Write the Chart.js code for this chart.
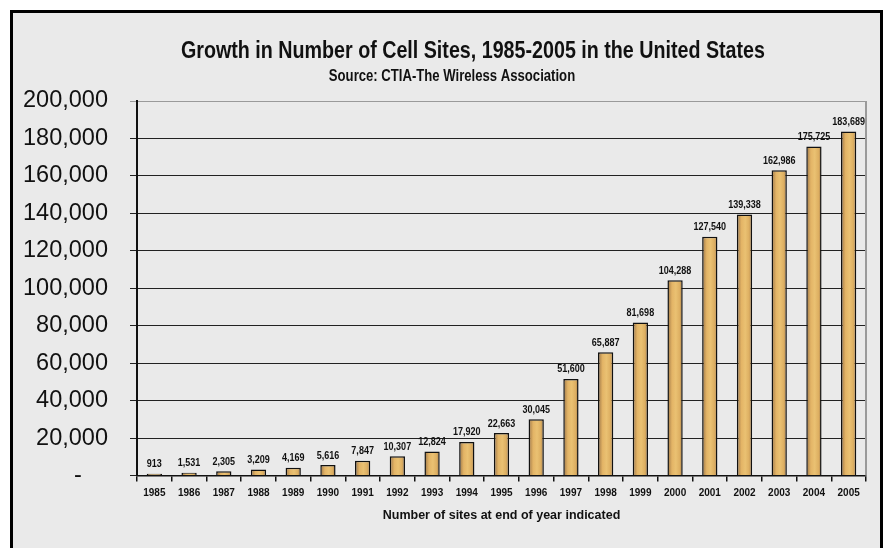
<!DOCTYPE html>
<html>
<head>
<meta charset="utf-8">
<script src="https://cdn.jsdelivr.net/npm/chart.js@4"></script>
<style>
  html, body { margin: 0; padding: 0; background: #fff; overflow: hidden; }
  #frame { position: absolute; left: 10px; top: 10px; width: 867px; height: 560px;
           border: 3px solid #000; background: #eaeaea; }
  #chart { position: absolute; left: 0; top: 0; }
</style>
</head>
<body>
<div id="frame"></div>
<canvas id="chart" width="883" height="548"></canvas>
<script>
"use strict";

const years = ["1985", "1986", "1987", "1988", "1989", "1990", "1991", "1992", "1993", "1994", "1995",
  "1996", "1997", "1998", "1999", "2000", "2001", "2002", "2003", "2004", "2005"];
const sites = [913, 1531, 2305, 3209, 4169, 5616, 7847, 10307, 12824, 17920, 22663,
  30045, 51600, 65887, 81698, 104288, 127540, 139338, 162986, 175725, 183689];
const titleText = "Growth in Number of Cell Sites, 1985-2005 in the United States";
const subtitleText = "Source: CTIA-The Wireless Association";
const xTitle = "Number of sites at end of year indicated";

const FONT = '"Liberation Sans", Arial, sans-serif';
const SQUEEZE = 0.82; // no narrow face installed, so squeeze drawn text by hand
const BAR_PCT = 0.44;
const fmt = (n) => Number(n).toLocaleString("en-US");

// horizontal shading across each bar
function barFill(ctx) {
  const chart = ctx.chart;
  const xs = chart.scales.x;
  if (!chart.chartArea || !xs) return "#e6b96a";
  const c = xs.getPixelForValue(ctx.dataIndex);
  const half = (xs.width / years.length) * BAR_PCT / 2;
  const g = chart.ctx.createLinearGradient(c - half, 0, c + half, 0);
  g.addColorStop(0, "#9a7446");
  g.addColorStop(0.3, "#e3b466");
  g.addColorStop(0.55, "#eac172");
  g.addColorStop(0.8, "#ddaf62");
  g.addColorStop(1, "#a47c4a");
  return g;
}

function squeezedText(c, text, x, y) {
  c.save();
  c.translate(x, y);
  c.scale(SQUEEZE, 1);
  c.fillText(text, 0, 0);
  c.restore();
}

const headerPlugin = {
  id: "header",
  afterDraw(chart) {
    const c = chart.ctx;
    c.save();
    c.fillStyle = "#111";
    c.textAlign = "center";
    c.textBaseline = "middle";
    c.font = "bold 24px " + FONT;
    squeezedText(c, titleText, 473, 51);
    c.font = "bold 16px " + FONT;
    squeezedText(c, subtitleText, 452, 77);
    c.restore();
  },
};

const framePlugin = {
  id: "plotFrame",
  beforeDatasetsDraw(chart) {
    const { ctx, chartArea: a } = chart;
    ctx.save();
    ctx.strokeStyle = "#9a9a9a";
    ctx.lineWidth = 2;
    ctx.beginPath();
    ctx.moveTo(a.right, a.top);
    ctx.lineTo(a.right, a.bottom);
    ctx.stroke();
    ctx.restore();
  },
};

const valueLabels = {
  id: "valueLabels",
  afterDatasetsDraw(chart) {
    const ctx = chart.ctx;
    const meta = chart.getDatasetMeta(0);
    ctx.save();
    ctx.fillStyle = "#111";
    ctx.font = "bold 11px " + FONT;
    ctx.textAlign = "center";
    ctx.textBaseline = "bottom";
    meta.data.forEach((bar, i) => {
      squeezedText(ctx, fmt(sites[i]), bar.x, bar.y - 4);
    });
    ctx.restore();
  },
};

new Chart(document.getElementById("chart"), {
  type: "bar",
  data: {
    labels: years,
    datasets: [{
      data: sites,
      backgroundColor: barFill,
      borderColor: "#111",
      borderWidth: 1.5,
      barPercentage: BAR_PCT,
      categoryPercentage: 1,
    }],
  },
  options: {
    responsive: false,
    animation: false,
    layout: { padding: { top: 101, left: 0, right: 17, bottom: 25 } },
    plugins: { legend: { display: false }, tooltip: { enabled: false } },
    scales: {
      y: {
        min: 0, max: 200000,
        afterFit: (s) => { s.width = 137; },
        ticks: {
          stepSize: 20000, color: "#111", padding: 22,
          font: { family: FONT, size: 23.5 },
          callback: (v) => (v === 0 ? "-    " : fmt(v)),
        },
        grid: {
          color: (c) => (c.tick && c.tick.value === 200000 ? "#9a9a9a" : "#222"),
          lineWidth: 1, drawTicks: true, tickLength: 7,
        },
        border: { color: "#111", width: 2 },
      },
      x: {
        ticks: { color: "#111", padding: 6, font: { family: FONT, size: 10, weight: "bold" }, maxRotation: 0 },
        grid: { offset: true, drawOnChartArea: false, drawTicks: true, tickLength: 6, color: "#111", lineWidth: 1.5 },
        border: { color: "#111", width: 1.5 },
        title: {
          display: true, text: xTitle, color: "#111",
          font: { family: FONT, size: 12.5, weight: "bold" },
          padding: { top: 2.5, bottom: 0 },
        },
      },
    },
  },
  plugins: [headerPlugin, framePlugin, valueLabels],
});
</script>
</body>
</html>
